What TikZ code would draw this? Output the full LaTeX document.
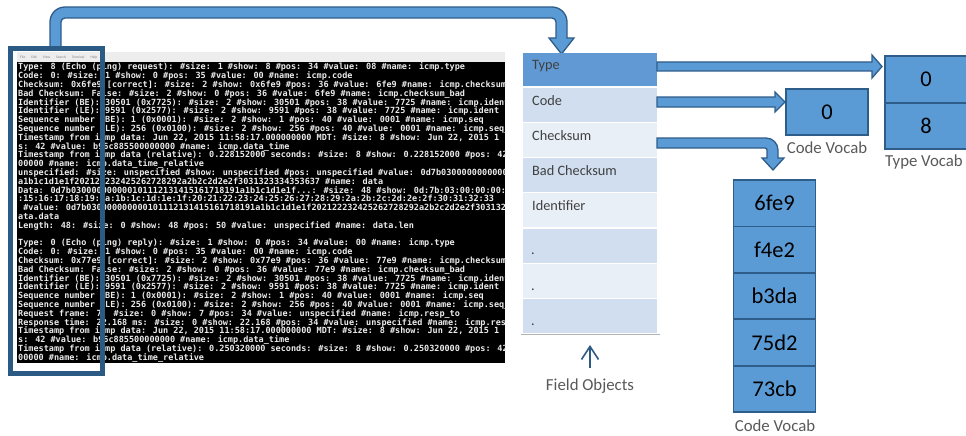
\documentclass[tikz,border=0pt]{standalone}
\usepackage{fontspec}
\setmainfont{Carlito}
\newfontfamily\termfont{DejaVu Sans Mono}
\usetikzlibrary{arrows.meta}
\definecolor{bandfill}{HTML}{5B9BD5}
\definecolor{bandline}{HTML}{2F5D8A}
\definecolor{hilite}{HTML}{2B5A85}
\definecolor{typerow}{HTML}{6099D4}
\definecolor{rowA}{HTML}{D0DEEF}
\definecolor{rowB}{HTML}{E9EFF7}
\definecolor{labgray}{HTML}{595959}
\definecolor{fieldtext}{HTML}{404040}
\definecolor{menubar}{HTML}{EDEDED}
\begin{document}
\begin{tikzpicture}[x=1pt,y=-1pt,
  band/.style={fill=bandfill, draw=bandline, line width=1.3pt, line join=miter},
  vocab/.style={rectangle, fill=bandfill, draw=bandline, line width=1.8pt, minimum width=82pt, minimum height=46.4pt, inner sep=0pt, font=\fontsize{22.5}{26}\selectfont, text=black},
  vlabel/.style={font=\fontsize{16.8}{19}\selectfont, text=labgray, inner sep=0pt},
  fieldrow/.style={rectangle, minimum width=134pt, minimum height=34pt, inner sep=0pt, draw=none},
  fieldtxt/.style={anchor=base west, font=\fontsize{14.3}{17}\selectfont, text=fieldtext, inner sep=0pt},
  termtxt/.style={anchor=north west, align=left, inner sep=0pt, text=white!92!black, font=\termfont\bfseries\fontsize{8.5}{8.8}\selectfont\setlength{\lineskiplimit}{-20pt}\setlength{\lineskip}{0pt}}]
\useasboundingbox (0,0) rectangle (966,436);
\fill[white] (0,0) rectangle (966,436);

% terminal
\node[rectangle, fill=black, minimum width=488pt, minimum height=301pt, inner sep=0pt] (term) at (261,212.5) {};
\node[rectangle, fill=menubar, minimum width=488pt, minimum height=10pt, inner sep=0pt] (menu) at (261,57) {};
\node[anchor=west, inner sep=0pt, font=\fontsize{3.6}{4}\selectfont, text=gray] (menutxt) at (20,57.3) {File\hspace{6pt}Edit\hspace{6pt}View\hspace{6pt}Search\hspace{6pt}Terminal\hspace{6pt}Help};
\begin{scope}
\clip (17,62) rectangle (505,363);
\node[termtxt] (termtext) at (18,62.8) {%
Type: 8 (Echo (ping) request): \#size: 1 \#show: 8 \#pos: 34 \#value: 08 \#name: icmp.type\\
Code: 0: \#size: 1 \#show: 0 \#pos: 35 \#value: 00 \#name: icmp.code\\
Checksum: 0x6fe9 [correct]: \#size: 2 \#show: 0x6fe9 \#pos: 36 \#value: 6fe9 \#name: icmp.checksum\\
Bad Checksum: False: \#size: 2 \#show: 0 \#pos: 36 \#value: 6fe9 \#name: icmp.checksum\_bad\\
Identifier (BE): 30501 (0x7725): \#size: 2 \#show: 30501 \#pos: 38 \#value: 7725 \#name: icmp.ident\\
Identifier (LE): 9591 (0x2577): \#size: 2 \#show: 9591 \#pos: 38 \#value: 7725 \#name: icmp.ident\\
Sequence number (BE): 1 (0x0001): \#size: 2 \#show: 1 \#pos: 40 \#value: 0001 \#name: icmp.seq\\
Sequence number (LE): 256 (0x0100): \#size: 2 \#show: 256 \#pos: 40 \#value: 0001 \#name: icmp.seq\_\\
Timestamp from icmp data: Jun 22, 2015 11:58:17.000000000 MDT: \#size: 8 \#show: Jun 22, 2015 1\\
s: 42 \#value: b96c885500000000 \#name: icmp.data\_time\\
Timestamp from icmp data (relative): 0.228152000 seconds: \#size: 8 \#show: 0.228152000 \#pos: 42\\
00000 \#name: icmp.data\_time\_relative\\
unspecified: \#size: unspecified \#show: unspecified \#pos: unspecified \#value: 0d7b03000000000000\\
a1b1c1d1e1f202122232425262728292a2b2c2d2e2f3031323334353637 \#name: data\\
Data: 0d7b030000000000101112131415161718191a1b1c1d1e1f...: \#size: 48 \#show: 0d:7b:03:00:00:00:0\\
:15:16:17:18:19:1a:1b:1c:1d:1e:1f:20:21:22:23:24:25:26:27:28:29:2a:2b:2c:2d:2e:2f:30:31:32:33\\
\phantom{x}\#value: 0d7b030000000000101112131415161718191a1b1c1d1e1f202122232425262728292a2b2c2d2e2f303132\\
ata.data\\
Length: 48: \#size: 0 \#show: 48 \#pos: 50 \#value: unspecified \#name: data.len\\
\mbox{}\\
Type: 0 (Echo (ping) reply): \#size: 1 \#show: 0 \#pos: 34 \#value: 00 \#name: icmp.type\\
Code: 0: \#size: 1 \#show: 0 \#pos: 35 \#value: 00 \#name: icmp.code\\
Checksum: 0x77e9 [correct]: \#size: 2 \#show: 0x77e9 \#pos: 36 \#value: 77e9 \#name: icmp.checksum\\
Bad Checksum: False: \#size: 2 \#show: 0 \#pos: 36 \#value: 77e9 \#name: icmp.checksum\_bad\\
Identifier (BE): 30501 (0x7725): \#size: 2 \#show: 30501 \#pos: 38 \#value: 7725 \#name: icmp.ident\\
Identifier (LE): 9591 (0x2577): \#size: 2 \#show: 9591 \#pos: 38 \#value: 7725 \#name: icmp.ident\\
Sequence number (BE): 1 (0x0001): \#size: 2 \#show: 1 \#pos: 40 \#value: 0001 \#name: icmp.seq\\
Sequence number (LE): 256 (0x0100): \#size: 2 \#show: 256 \#pos: 40 \#value: 0001 \#name: icmp.seq\_\\
Request frame: 7: \#size: 0 \#show: 7 \#pos: 34 \#value: unspecified \#name: icmp.resp\_to\\
Response time: 22.168 ms: \#size: 0 \#show: 22.168 \#pos: 34 \#value: unspecified \#name: icmp.resp\\
Timestamp from icmp data: Jun 22, 2015 11:58:17.000000000 MDT: \#size: 8 \#show: Jun 22, 2015 1\\
s: 42 \#value: b96c885500000000 \#name: icmp.data\_time\\
Timestamp from icmp data (relative): 0.250320000 seconds: \#size: 8 \#show: 0.250320000 \#pos: 42\\
00000 \#name: icmp.data\_time\_relative};
\end{scope}

% top bent arrow
\filldraw[band] (50,49) -- (50,22) .. controls (50,13.7) and (56.7,7) .. (65,7) -- (552,7) .. controls (560.3,7) and (567,13.7) .. (567,22) -- (567,38) -- (574,38) -- (561.5,54) -- (549,38) -- (556,38) -- (556,22) .. controls (556,19.8) and (554.2,18) .. (552,18) -- (65,18) .. controls (62.8,18) and (61,19.8) .. (61,22) -- (61,49) -- cycle;

% highlight box
\node[rectangle, draw=hilite, line width=5pt, minimum width=92pt, minimum height=324pt, inner sep=0pt] (hl) at (56.5,211) {};

% field objects list
\node[fieldrow, fill=typerow, minimum height=33pt] (f1) at (590,69.5) {};
\node[fieldrow, fill=rowA] (f2) at (590,105) {};
\node[fieldrow, fill=rowB] (f3) at (590,140) {};
\node[fieldrow, fill=rowA] (f4) at (590,175) {};
\node[fieldrow, fill=rowB] (f5) at (590,210) {};
\node[fieldrow, fill=rowA] (f6) at (590,246) {};
\node[fieldrow, fill=rowB] (f7) at (590,280.5) {};
\node[fieldrow, fill=rowA] (f8) at (590,315.5) {};
\draw[draw=gray!60, line width=1pt] (521,334.5) -- (660,334.5);
\node[fieldtxt] (t1) at (532,69.8) {Type};
\node[fieldtxt] (t2) at (532,105) {Code};
\node[fieldtxt] (t3) at (532,140.5) {Checksum};
\node[fieldtxt] (t4) at (532,175.5) {Bad Checksum};
\node[fieldtxt] (t5) at (532,210.5) {Identifier};
\node[fieldtxt] (t6) at (531,254) {.};
\node[fieldtxt] (t7) at (531,290) {.};
\node[fieldtxt] (t8) at (531,325) {.};

% up arrow and label
\coordinate (uparrowbase) at (590,368);
\coordinate (uparrowtip) at (590,345);
\draw[hilite, line width=1.6pt, -{Straight Barb[length=13pt,width=17pt,line width=1.6pt]}] (uparrowbase) -- (uparrowtip);
\node[vlabel] (fo) at (590,386) {Field Objects};

% arrows from fields
\filldraw[band] (657,62) -- (872,62) -- (872,55) -- (882,66.5) -- (872,78) -- (872,71) -- (657,71) -- cycle;
\filldraw[band] (657,97) -- (775,97) -- (775,92) -- (785,102) -- (775,112) -- (775,107) -- (657,107) -- cycle;
\filldraw[band] (657,138) -- (766,138) .. controls (772.6,138) and (778,143.4) .. (778,150) -- (778,158) -- (784,158) -- (773,170) -- (762,158) -- (767,158) -- (767,150) .. controls (767,148.9) and (766.1,148) .. (765,148) -- (657,148) -- cycle;

% type vocab
\node[vocab] (ty0) at (926,79.5) {0};
\node[vocab] (ty8) at (926,126) {8};
\node[vlabel] (tyl) at (924,162) {Type Vocab};

% code vocab
\node[vocab] (cv0) at (827,112) {0};
\node[vlabel] (cvl) at (827,148) {Code Vocab};

% checksum vocab
\node[vocab] (c1) at (774.5,203.2) {6fe9};
\node[vocab] (c2) at (774.5,249.6) {f4e2};
\node[vocab] (c3) at (774.5,296) {b3da};
\node[vocab] (c4) at (774.5,342.4) {75d2};
\node[vocab] (c5) at (774.5,388.8) {73cb};
\node[vlabel] (csl) at (775,425.5) {Code Vocab};
\end{tikzpicture}
\end{document}
